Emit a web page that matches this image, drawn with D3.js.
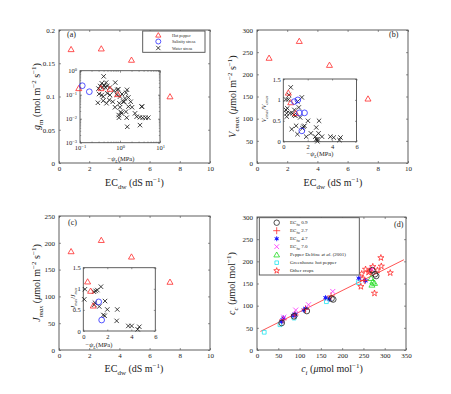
<!DOCTYPE html>
<html>
<head>
<meta charset="utf-8">
<script src="https://cdn.jsdelivr.net/npm/d3@7"></script>
<style>
  body { margin: 0; background: white; }
  text { font-family: "Liberation Serif", "Times New Roman", serif; fill: #222; }
</style>
</head>
<body>
<script>

// ---- data ----
var ecDw = [0.8, 2.8, 4.8, 7.35];
var gmHot = [0.171, 0.172, 0.155, 0.1];
var vcmaxHot = [237, 275, 221, 145];
var jmaxHot = [184, 205, 174, 127];

// inset (a): -psiL (MPa) vs gm, log-log
var insetHotA = [[0.093, 0.185], [0.335, 0.185], [0.56, 0.173], [0.876, 0.104]];
var insetSalA = [[0.114, 0.237], [0.171, 0.133]];
var insetWaterA = [[0.39,0.58],[0.35,0.30],[0.40,0.25],[0.45,0.32],[0.32,0.23],[0.29,0.18],[0.37,0.20],
  [0.43,0.20],[0.48,0.23],[0.56,0.20],[0.76,0.32],[0.86,0.16],[0.91,0.17],[0.30,0.107],[0.35,0.097],
  [0.38,0.083],[0.48,0.114],[0.56,0.097],[0.71,0.147],[0.83,0.10],[1.0,0.083],[1.12,0.107],[1.41,0.121],
  [1.50,0.16],[1.33,0.070],[1.26,0.051],[1.62,0.077],[0.28,0.046],[0.38,0.056],[0.46,0.044],[0.54,0.060],
  [0.66,0.051],[0.75,0.030],[0.96,0.044],[1.0,0.030],[1.04,0.019],[1.21,0.051],[1.62,0.032],[1.85,0.051],
  [2.0,0.030],[2.37,0.0167],[2.61,0.0121],[3.48,0.032],[3.55,0.032],[3.16,0.0114],[3.69,0.011],
  [4.38,0.011],[5.1,0.011],[1.47,0.011],[0.93,0.0142],[0.94,0.011],[1.52,0.0046],[3.16,0.0054],
  [1.41,0.0196],[1.10,0.0167]];

// inset (b): -psiL vs Vcmax/Vcmax
var insetHotB = [[0.41, 1.17], [0.61, 0.94], [1.02, 0.68]];
var insetSalB = [[0.91, 0.96], [1.19, 1.0], [1.32, 0.69], [1.74, 0.69], [1.52, 0.26]];
var insetWaterB = [[0.61,1.30],[0.47,1.12],[0.22,1.01],[0.41,1.01],[0.33,0.80],[0.22,0.76],[0.28,0.68],
  [0.28,0.60],[1.52,1.06],[1.16,0.96],[0.74,0.68],[0.88,0.64],[0.99,0.62],[0.55,0.68],[0.91,0.76],
  [1.27,0.82],[2.02,0.50],[2.93,0.50],[1.38,0.58],[0.69,0.30],[1.05,0.38],[1.16,0.18],[1.65,0.36],
  [1.74,0.38],[1.57,0.32],[2.70,0.34],[1.88,0.12],[2.26,0.20],[2.62,0.12],[2.70,0.06],[2.81,0.06],
  [2.89,0.20],[2.79,0.01],[3.17,0.12],[3.86,0.12],[4.13,0.10],[4.69,0.10],[4.60,0.04]];

// inset (c): -psiL vs Jmax/Jmax
var insetHotC = [[0.36, 1.17], [0.61, 0.95], [0.83, 0.60]];
var insetSalC = [[1.28, 0.69], [1.53, 0.26]];
var insetWaterC = [[0.14,0.99],[0.08,0.75],[0.89,0.93],[1.03,0.95],[1.17,0.97],[1.47,1.05],[0.97,0.67],
  [0.92,0.62],[1.33,0.58],[1.81,0.71],[2.0,0.51],[2.83,0.51],[1.67,0.38],[1.78,0.36],[2.78,0.24],
  [3.75,0.12],[4.03,0.12],[4.67,0.10],[4.53,0.04]];

// panel (d): ci vs cc
var ec09 = [[58,61],[87,76],[117,88],[175,116],[179,114],[271,180],[277,171],[280,167]];
var ec27 = [[61,68],[89,79],[114,92],[174,122],[268,176],[253,157]];
var ec47 = [[58,64],[60,68],[62,72],[85,78],[89,81],[90,79],[110,90],[114,94],[161,118],[170,115],[239,162],[255,156]];
var ec70 = [[63,74],[91,90],[121,102],[178,132],[270,182]];
var delfine = [[268,162],[272,154],[270,147],[276,151]];
var greenhouse = [[17,40],[54,57],[87,72],[163,109],[238,152]];
var otherCrops = [[244,143],[247,160],[246,172],[255,182],[262,175],[272,188],[283,180],[292,189],
  [291,208],[313,174],[276,128],[265,178]];
var fitIntercept = 38, fitSlope = 0.48, fitRange = [8, 345];

var ecTicks = [0, 2, 4, 6, 8, 10];

var svg = d3.select("body").append("svg")
            .attr("width", 451)
            .attr("height", 394);

var boxColor = "#4d4d4d";

// text with sub/superscripts: parts = [[text, "sub"|"sup"|"", italic]]
function rich(sel, parts, fs) {
  var cur = 0;
  parts.forEach(function(p) {
    var off = p[1] == "sub" ? 0.3 : (p[1] == "sup" ? -0.42 : 0);
    var ts = sel.append("tspan").text(p[0]).attr("dy", ((off - cur) * fs) + "px");
    if (p[1]) ts.attr("font-size", (fs * 0.7) + "px");
    if (p[2]) ts.attr("font-style", "italic");
    cur = off;
  });
  return sel;
}

function marker(g, type, px, py, color, s) {
  var sym, sz = s || 1;
  if (type == "tri") sym = d3.symbol(d3.symbolTriangle2, 26 * sz);
  else if (type == "circ") sym = d3.symbol(d3.symbolCircle, 26 * sz);
  else if (type == "x") sym = d3.symbol(d3.symbolTimes, 18 * sz);
  else if (type == "plus") sym = d3.symbol(d3.symbolPlus, 20 * sz);
  else if (type == "ast") sym = d3.symbol(d3.symbolAsterisk, 20 * sz);
  else if (type == "sq") sym = d3.symbol(d3.symbolSquare2, 18 * sz);
  else if (type == "star") sym = d3.symbol(d3.symbolStar, 12 * sz);
  var dy = type == "tri" ? 0.6 : 0;
  if (type == "ast") {
    g.append("circle").attr("cx", px).attr("cy", py).attr("r", 1.6 * Math.sqrt(sz)).attr("fill", color);
  }
  g.append("path")
   .attr("d", sym())
   .attr("transform", "translate(" + px + "," + (py + dy) + ")")
   .attr("fill", "none")
   .attr("stroke", color)
   .attr("stroke-width", 0.8);
}

function styleAxis(ax, fs) {
  ax.select(".domain").remove();
  ax.selectAll(".tick line").attr("stroke", boxColor).attr("stroke-width", 0.6);
  ax.selectAll(".tick text").attr("font-size", fs + "px")
    .attr("font-family", "Liberation Serif").attr("fill", "#333");
}

// draws a boxed axes with inward ticks on all four sides
function frame(b, x, y, xt, yt, fmtX, fmtY, fs, pad, tick) {
  var g = svg.append("g");
  g.append("rect")
   .attr("x", b.x0).attr("y", b.y0)
   .attr("width", b.x1 - b.x0).attr("height", b.y1 - b.y0)
   .attr("fill", "white");
  var t = tick || 2;
  var ax;
  ax = g.append("g").attr("transform", "translate(0," + b.y1 + ")")
        .call(d3.axisBottom(x).tickValues(xt).tickSize(-t).tickPadding(pad[0]).tickFormat(fmtX));
  styleAxis(ax, fs);
  ax = g.append("g").attr("transform", "translate(0," + b.y0 + ")")
        .call(d3.axisTop(x).tickValues(xt).tickSize(-t).tickFormat(""));
  styleAxis(ax, fs);
  ax = g.append("g").attr("transform", "translate(" + b.x0 + ",0)")
        .call(d3.axisLeft(y).tickValues(yt).tickSize(-t).tickPadding(pad[1]).tickFormat(fmtY));
  styleAxis(ax, fs);
  ax = g.append("g").attr("transform", "translate(" + b.x1 + ",0)")
        .call(d3.axisRight(y).tickValues(yt).tickSize(-t).tickFormat(""));
  styleAxis(ax, fs);
  g.append("rect")
   .attr("x", b.x0).attr("y", b.y0)
   .attr("width", b.x1 - b.x0).attr("height", b.y1 - b.y0)
   .attr("fill", "none").attr("stroke", boxColor).attr("stroke-width", 0.9);
  return g;
}

function yTitle(px, py, parts, fs) {
  var t = svg.append("text")
             .attr("transform", "translate(" + px + "," + py + ") rotate(-90)")
             .attr("text-anchor", "middle")
             .attr("font-size", fs + "px");
  rich(t, parts, fs);
}

function xTitle(px, py, parts, fs) {
  var t = svg.append("text")
             .attr("x", px).attr("y", py)
             .attr("text-anchor", "middle")
             .attr("font-size", fs + "px");
  rich(t, parts, fs);
}

function panelLabel(px, py, s) {
  svg.append("text").attr("x", px).attr("y", py).attr("font-size", "8px").text(s);
}

var ecTitle = [["EC", ""], ["dw", "sub"], [" (dS m", ""], ["\u22121", "sup"], [")", ""]];
var psiTitle = [["\u2212", ""], ["\u03c8", "", true], ["L", "sub", true], ["(MPa)", ""]];
var umolTitle = [[" (", ""], ["\u03bc", "", true], ["mol m", ""], ["\u22122", "sup"], [" s", ""], ["\u22121", "sup"], [")", ""]];

// ================= panel (a) =================
var bA = {x0: 59, x1: 210, y0: 30, y1: 163};
var xA = d3.scaleLinear().domain([0, 10]).range([bA.x0, bA.x1]);
var yA = d3.scaleLinear().domain([0, 0.2]).range([bA.y1, bA.y0]);
var gA = frame(bA, xA, yA, ecTicks, [0, 0.05, 0.1, 0.15, 0.2], d3.format("d"),
               function(d) { return d == 0 ? "0" : String(+d.toFixed(2)); }, 7, [3, 4]);
ecDw.forEach(function(e, i) { marker(gA, "tri", xA(e), yA(gmHot[i]), "#ff2a2a"); });
yTitle(40, 96.5, [["g", "", true], ["m", "sub"], [" (mol m", ""], ["\u22122", "sup"], [" s", ""], ["\u22121", "sup"], [")", ""]], 10);
xTitle(134.5, 186, ecTitle, 10);
panelLabel(67, 37, "(a)");

// legend (a)
var legA = svg.append("g");
legA.append("rect").attr("x", 142.7).attr("y", 31).attr("width", 62.3).attr("height", 21.3)
    .attr("fill", "white").attr("stroke", boxColor).attr("stroke-width", 0.9);
[["tri", "#ff2a2a", "Hot pepper"], ["circ", "#2a2aff", "Salinity stress"], ["x", "#111", "Water stress"]]
  .forEach(function(d, i) {
    var yy = 35 + i * 6.5;
    marker(legA, d[0], 158.3, yy, d[1], 0.75);
    legA.append("text").attr("x", 172).attr("y", yy + 1.5).attr("font-size", "4.2px").text(d[2]);
  });

// inset (a), log-log
var iA = {x0: 80, x1: 160, y0: 70.7, y1: 142.7};
var ixA = d3.scaleLog().domain([0.1, 10]).range([iA.x0, iA.x1]);
var iyA = d3.scaleLog().domain([0.001, 1]).range([iA.y1, iA.y0]);
var giA = frame(iA, ixA, iyA, [0.1, 1, 10], [0.001, 0.01, 0.1, 1], d3.format("d"), d3.format("d"), 6.5, [3, 3]);
// minor log ticks
var minorX = [], minorY = [];
[0.1, 1].forEach(function(dec) { for (var k = 2; k < 10; k++) minorX.push(dec * k); });
[0.001, 0.01, 0.1].forEach(function(dec) { for (var k = 2; k < 10; k++) minorY.push(dec * k); });
minorX.forEach(function(v) {
  giA.append("line").attr("x1", ixA(v)).attr("x2", ixA(v)).attr("y1", iA.y1).attr("y2", iA.y1 - 1.2).attr("stroke", boxColor).attr("stroke-width", 0.5);
  giA.append("line").attr("x1", ixA(v)).attr("x2", ixA(v)).attr("y1", iA.y0).attr("y2", iA.y0 + 1.2).attr("stroke", boxColor).attr("stroke-width", 0.5);
});
minorY.forEach(function(v) {
  giA.append("line").attr("y1", iyA(v)).attr("y2", iyA(v)).attr("x1", iA.x0).attr("x2", iA.x0 + 1.2).attr("stroke", boxColor).attr("stroke-width", 0.5);
  giA.append("line").attr("y1", iyA(v)).attr("y2", iyA(v)).attr("x1", iA.x1).attr("x2", iA.x1 - 1.2).attr("stroke", boxColor).attr("stroke-width", 0.5);
});
// power-of-ten labels
giA.selectAll(".tick text").each(function(d) {
  if (d == undefined || d3.select(this).text() == "") return;
  var t = d3.select(this);
  var p = Math.round(Math.log10(d));
  t.text("10");
  t.append("tspan").attr("dy", "-0.45em").attr("font-size", "4.5px").text(p < 0 ? "\u2212" + (-p) : p);
});
insetWaterA.forEach(function(d) { marker(giA, "x", ixA(d[0]), iyA(d[1]), "#111", 0.8); });
insetHotA.forEach(function(d) { marker(giA, "tri", ixA(d[0]), iyA(d[1]), "#ff2a2a"); });
insetSalA.forEach(function(d) { marker(giA, "circ", ixA(d[0]), iyA(d[1]), "#2a2aff"); });
xTitle(121, 161, psiTitle, 6.5);

// ================= panel (b) =================
var bB = {x0: 257, x1: 408, y0: 30, y1: 163};
var xB = d3.scaleLinear().domain([0, 10]).range([bB.x0, bB.x1]);
var yB = d3.scaleLinear().domain([0, 300]).range([bB.y1, bB.y0]);
var gB = frame(bB, xB, yB, ecTicks, d3.range(0, 301, 50), d3.format("d"), d3.format("d"), 7, [3, 4]);
ecDw.forEach(function(e, i) { marker(gB, "tri", xB(e), yB(vcmaxHot[i]), "#ff2a2a"); });
yTitle(236, 96.5, [["V", "", true], ["cmax", "sub", true]].concat(umolTitle), 10);
xTitle(333, 186, ecTitle, 10);
panelLabel(389, 37, "(b)");

var iB = {x0: 283.3, x1: 356.5, y0: 79, y1: 141.7};
var ixB = d3.scaleLinear().domain([0, 6]).range([iB.x0, iB.x1]);
var iyB = d3.scaleLinear().domain([0, 1.5]).range([iB.y1, iB.y0]);
var giB = frame(iB, ixB, iyB, [0, 2, 4, 6], [0, 0.5, 1, 1.5], d3.format("d"),
                function(d) { return String(d); }, 6.5, [3, 2.5], 1.5);
insetWaterB.forEach(function(d) { marker(giB, "x", ixB(d[0]), iyB(d[1]), "#111", 0.8); });
insetHotB.forEach(function(d) { marker(giB, "tri", ixB(d[0]), iyB(d[1]), "#ff2a2a"); });
insetSalB.forEach(function(d) { marker(giB, "circ", ixB(d[0]), iyB(d[1]), "#2a2aff"); });
xTitle(320, 156, psiTitle, 6.5);
yTitle(266, 109, [["V", "", true], ["cmax", "sub", true], ["/", ""], ["V", "", true], ["cmax", "sub", true]], 6);

// ================= panel (c) =================
var bC = {x0: 59, x1: 210, y0: 216, y1: 350};
var xC = d3.scaleLinear().domain([0, 10]).range([bC.x0, bC.x1]);
var yC = d3.scaleLinear().domain([0, 250]).range([bC.y1, bC.y0]);
var gC = frame(bC, xC, yC, ecTicks, d3.range(0, 251, 50), d3.format("d"), d3.format("d"), 7, [3, 4]);
ecDw.forEach(function(e, i) { marker(gC, "tri", xC(e), yC(jmaxHot[i]), "#ff2a2a"); });
yTitle(40, 283, [["J", "", true], ["max", "sub", true]].concat(umolTitle), 10);
xTitle(134, 372, ecTitle, 10);
panelLabel(68, 225, "(c)");

var iC = {x0: 83.3, x1: 155.3, y0: 267.7, y1: 331};
var ixC = d3.scaleLinear().domain([0, 6]).range([iC.x0, iC.x1]);
var iyC = d3.scaleLinear().domain([0, 1.5]).range([iC.y1, iC.y0]);
var giC = frame(iC, ixC, iyC, [0, 2, 4, 6], [0, 0.5, 1, 1.5], d3.format("d"),
                function(d) { return String(d); }, 6.5, [3, 2.5], 1.5);
insetWaterC.forEach(function(d) { marker(giC, "x", ixC(d[0]), iyC(d[1]), "#111", 0.8); });
insetHotC.forEach(function(d) { marker(giC, "tri", ixC(d[0]), iyC(d[1]), "#ff2a2a"); });
insetSalC.forEach(function(d) { marker(giC, "circ", ixC(d[0]), iyC(d[1]), "#2a2aff"); });
xTitle(99, 347, psiTitle, 6.5);
yTitle(75, 298, [["J", "", true], ["max", "sub", true], ["/", ""], ["J", "", true], ["max", "sub", true]], 6);

// ================= panel (d) =================
var bD = {x0: 257, x1: 406, y0: 217, y1: 350};
var xD = d3.scaleLinear().domain([0, 350]).range([bD.x0, bD.x1]);
var yD = d3.scaleLinear().domain([0, 300]).range([bD.y1, bD.y0]);
var gD = frame(bD, xD, yD, d3.range(0, 351, 50), d3.range(0, 301, 50), d3.format("d"), d3.format("d"), 7, [3, 4]);

gD.append("line")
  .attr("x1", xD(fitRange[0])).attr("y1", yD(fitIntercept + fitSlope * fitRange[0]))
  .attr("x2", xD(fitRange[1])).attr("y2", yD(fitIntercept + fitSlope * fitRange[1]))
  .attr("stroke", "#ff4040").attr("stroke-width", 0.9);

greenhouse.forEach(function(d) { marker(gD, "sq", xD(d[0]), yD(d[1]), "#22e5f0"); });
otherCrops.forEach(function(d) { marker(gD, "star", xD(d[0]), yD(d[1]), "#ff2a2a"); });
delfine.forEach(function(d) { marker(gD, "tri", xD(d[0]), yD(d[1]), "#1fdc1f"); });
ec47.forEach(function(d) { marker(gD, "ast", xD(d[0]), yD(d[1]), "#1a1aff"); });
ec27.forEach(function(d) { marker(gD, "plus", xD(d[0]), yD(d[1]), "#ff2a2a"); });
ec70.forEach(function(d) { marker(gD, "x", xD(d[0]), yD(d[1]), "#ff2aff"); });
ec09.forEach(function(d) { marker(gD, "circ", xD(d[0]), yD(d[1]), "#222"); });

yTitle(235, 283.5, [["c", "", true], ["c", "sub", true], [" (", ""], ["\u03bc", "", true], ["mol mol", ""], ["\u22121", "sup"], [")", ""]], 10);
xTitle(332, 372, [["c", "", true], ["i", "sub", true], [" (", ""], ["\u03bc", "", true], ["mol mol", ""], ["\u22121", "sup"], [")", ""]], 10);
panelLabel(394, 227, "(d)");

// legend (d)
var legD = svg.append("g");
legD.append("rect").attr("x", 259.3).attr("y", 217.7).attr("width", 100).attr("height", 57.3)
    .attr("fill", "white").attr("stroke", boxColor).attr("stroke-width", 0.9);
var legItems = [
  ["circ", "#222", [["EC", ""], ["fw", "sub"], [" 0.9", ""]]],
  ["plus", "#ff2a2a", [["EC", ""], ["fw", "sub"], [" 2.7", ""]]],
  ["ast", "#1a1aff", [["EC", ""], ["fw", "sub"], [" 4.7", ""]]],
  ["x", "#ff2aff", [["EC", ""], ["fw", "sub"], [" 7.0", ""]]],
  ["tri", "#1fdc1f", [["Pepper Delfine ", ""], ["et al.", "", true], [" (2001)", ""]]],
  ["sq", "#22e5f0", [["Greenhouse hot pepper", ""]]],
  ["star", "#ff2a2a", [["Other crops", ""]]]
];
legItems.forEach(function(d, i) {
  var yy = 222.7 + i * 8;
  marker(legD, d[0], 276.7, yy, d[1], 0.9);
  var t = legD.append("text").attr("x", 290).attr("y", yy + 1.7).attr("font-size", "5px");
  rich(t, d[2], 5);
});

</script>
</body>
</html>
